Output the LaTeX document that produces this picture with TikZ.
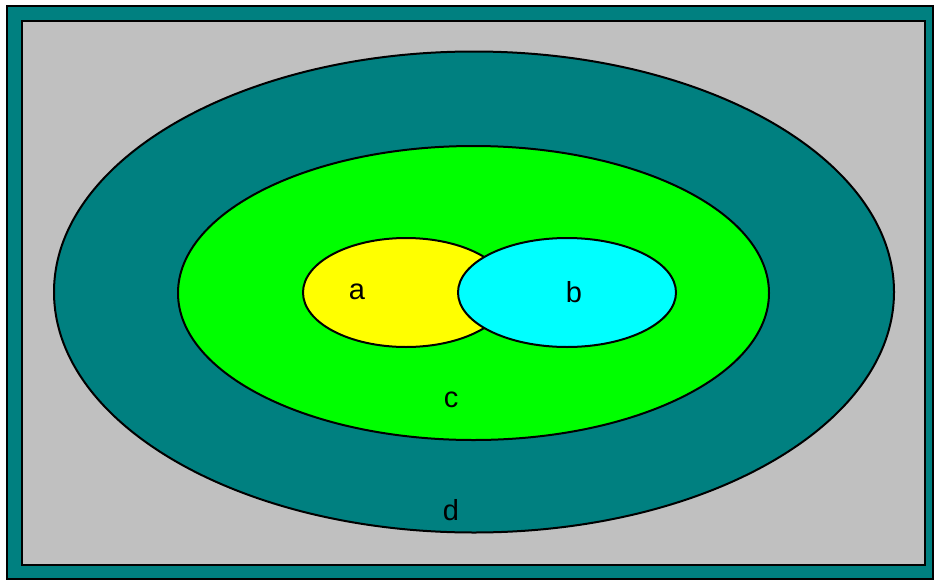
\documentclass[tikz,border=0pt]{standalone}
\usepackage{fontspec}
\setmainfont{Liberation Sans}
\usetikzlibrary{shapes.geometric, positioning}
\definecolor{teal1}{RGB}{0, 128, 128}
\definecolor{gray1}{RGB}{192, 192, 192}
\definecolor{green1}{RGB}{0, 255, 0}
\definecolor{yellow1}{RGB}{255, 255, 0}
\definecolor{cyan1}{RGB}{0, 255, 255}

\begin{document}
\begin{tikzpicture}[x=1pt, y=-1pt,
    region/.style={draw=black, line width=2pt, ellipse, inner sep=0pt},
    lbl/.style={font=\fontsize{29}{33}\selectfont, inner sep=0pt}]
  \useasboundingbox (0,0) rectangle (934,581);
  % frame
  \draw[line width=2.4pt, fill=teal1] (7,6) rectangle (933,579);
  \draw[line width=2.4pt, fill=gray1] (22,21) rectangle (925,565);
  % regions
  \node[region, fill=teal1, minimum width=840pt, minimum height=481pt] (d) at (474,292) {};
  \node[region, fill=green1, minimum width=591pt, minimum height=294pt] (c) at (473.5,293) {};
  \node[region, fill=yellow1, minimum width=206pt, minimum height=109pt] (a) at (406,292.5) {};
  \node[region, fill=cyan1, minimum width=218pt, minimum height=109pt] (b) at (567,292.5) {};
  % labels
  \node[lbl] (la) at (357,292) {a};
  \node[lbl] (lb) at (574,292) {b};
  \node[lbl] (lc) at (451,400) {c};
  \node[lbl] (ld) at (451,510) {d};
\end{tikzpicture}
\end{document}
